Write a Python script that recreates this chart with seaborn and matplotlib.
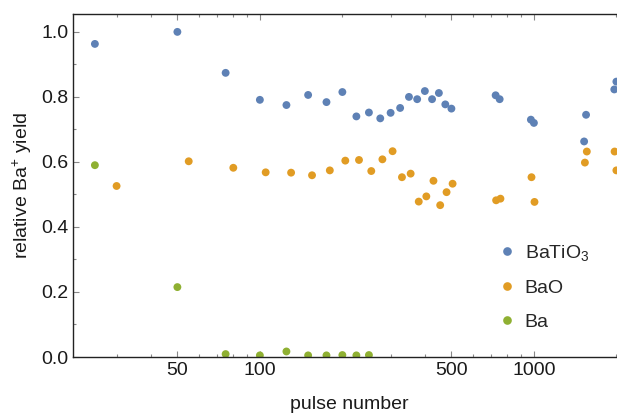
import numpy as np
import pandas as pd
import seaborn as sns
import matplotlib.pyplot as plt
from matplotlib.ticker import FixedLocator, FixedFormatter, MultipleLocator

# data (log x axis)
pulses_batio3 = [25, 50, 75, 100, 125, 150, 175, 200, 225, 250, 275, 300, 325, 350,
                 375, 400, 425, 450, 475, 500, 725, 750, 975, 1000, 1525, 1550, 1965, 2000]
yield_batio3 = [0.963, 1.0, 0.874, 0.791, 0.775, 0.806, 0.784, 0.815, 0.740, 0.752, 0.734,
                0.751, 0.766, 0.800, 0.793, 0.818, 0.793, 0.812, 0.777, 0.764, 0.805, 0.793,
                0.730, 0.720, 0.663, 0.745, 0.823, 0.847]

pulses_bao = [30, 55, 80, 105, 130, 155, 180, 205, 230, 255, 280, 305, 330, 355, 380,
              405, 430, 455, 480, 505, 728, 755, 980, 1005, 1535, 1560, 1970, 2000]
yield_bao = [0.526, 0.602, 0.582, 0.568, 0.567, 0.559, 0.574, 0.604, 0.606, 0.572, 0.608,
             0.633, 0.553, 0.564, 0.478, 0.494, 0.542, 0.467, 0.507, 0.533, 0.482, 0.487,
             0.553, 0.477, 0.598, 0.632, 0.632, 0.574]

pulses_ba = [25, 50, 75, 100, 125, 150, 175, 200, 225, 250]
yield_ba = [0.590, 0.215, 0.009, 0.005, 0.017, 0.005, 0.005, 0.006, 0.005, 0.006]

labels = [r"BaTiO$_3$", "BaO", "Ba"]
colors = ["#5E81B5", "#E19C24", "#8FB032"]

x_major = [50, 100, 500, 1000]
x_minor = [30, 40, 60, 70, 80, 90, 200, 300, 400, 600, 700, 800, 900, 2000]

df = pd.concat([
    pd.DataFrame({"pulse": pulses_batio3, "yield": yield_batio3, "species": labels[0]}),
    pd.DataFrame({"pulse": pulses_bao, "yield": yield_bao, "species": labels[1]}),
    pd.DataFrame({"pulse": pulses_ba, "yield": yield_ba, "species": labels[2]}),
], ignore_index=True)

sns.set_style("ticks")
plt.rcParams["font.family"] = ["Liberation Sans", "DejaVu Sans"]
plt.rcParams["mathtext.fontset"] = "custom"
plt.rcParams["mathtext.rm"] = "Liberation Sans"
plt.rcParams["mathtext.it"] = "Liberation Sans:italic"

W, H = 617, 415
fig = plt.figure(figsize=(W / 100, H / 100), dpi=100)
# axes right edge runs past the figure, like the cropped reference
ax = fig.add_axes([73 / W, (H - 357) / H, (625 - 73) / W, (357 - 14) / H])

sns.scatterplot(data=df, x="pulse", y="yield", hue="species", palette=colors,
                s=32, linewidth=0, ax=ax)

ax.set_xscale("log")
ax.set_xlim(20.8, 2150)
ax.set_ylim(0, 1.055)

ax.xaxis.set_major_locator(FixedLocator(x_major))
ax.xaxis.set_major_formatter(FixedFormatter([str(v) for v in x_major]))
ax.xaxis.set_minor_locator(FixedLocator(x_minor))
ax.xaxis.set_minor_formatter(FixedFormatter([""] * len(x_minor)))
ax.yaxis.set_major_locator(MultipleLocator(0.2))
ax.yaxis.set_minor_locator(MultipleLocator(0.1))
ax.yaxis.set_major_formatter(plt.FuncFormatter(lambda v, p: f"{v:.1f}"))

ax.tick_params(which="both", direction="in", top=True, right=True, colors="#888888",
               labelcolor="#1a1a1a", labelsize=14, width=0.8)
ax.tick_params(which="major", length=4.5)
ax.tick_params(which="minor", length=2.5)
for sp in ax.spines.values():
    sp.set_color("#222222")
    sp.set_linewidth(1.0)

ax.set_xlabel("pulse number", fontsize=14, color="#1a1a1a", labelpad=12)
ax.set_ylabel(r"relative Ba$^{+}$ yield", fontsize=14, color="#1a1a1a", labelpad=5)

ax.legend(loc="center left", bbox_to_anchor=(0.768, 0.204), frameon=False, fontsize=14,
          handlelength=1.0, handletextpad=0.43, labelspacing=0.85, borderpad=0,
          borderaxespad=0, markerscale=1.1)

fig.savefig("out.png", dpi=100)
